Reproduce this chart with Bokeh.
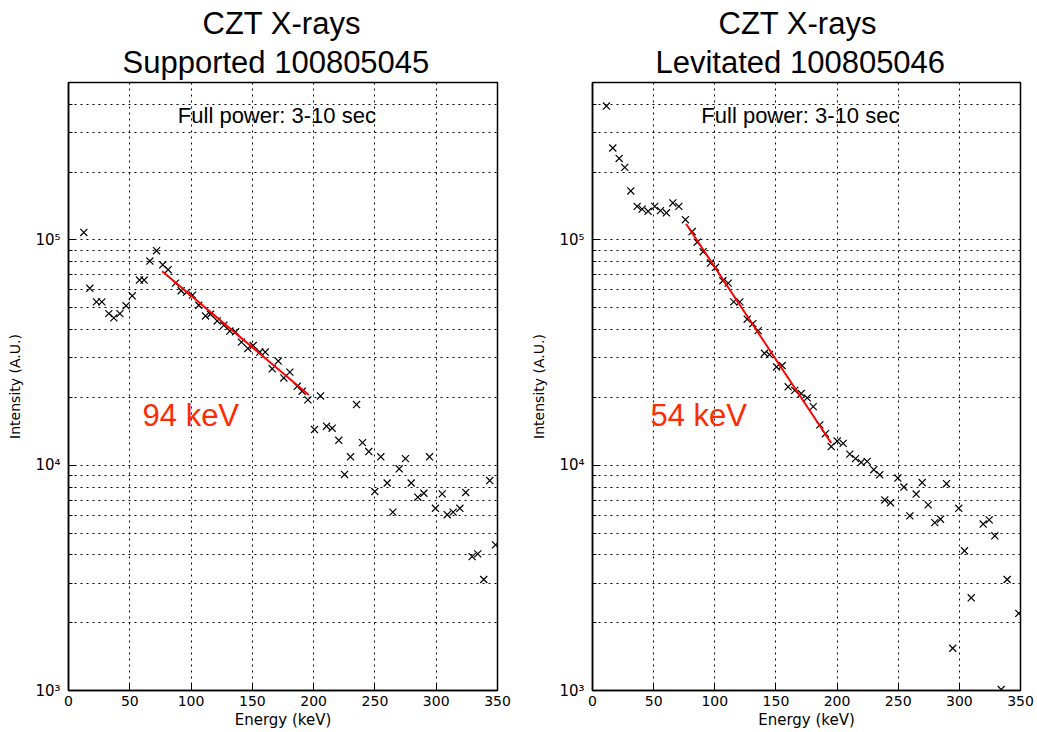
from bokeh.plotting import figure
from bokeh.layouts import row
from bokeh.models import Range1d, FixedTicker, Title, Label
from bokeh.embed import file_html
from bokeh.resources import INLINE

# ---------------- data ----------------
energy_supported = [12.5, 17.4, 22.8, 27.2, 32.9, 37.0, 41.9, 47.0, 52.0, 57.9, 61.7, 66.4,
                    71.8, 76.9, 81.3, 87.3, 91.9, 96.3, 101.2, 106.3, 111.8, 115.8, 121.3,
                    126.7, 131.6, 136.3, 141.1, 146.3, 150.7, 156.1, 160.5, 166.2, 171.1,
                    175.7, 180.6, 186.6, 190.6, 195.3, 200.7, 205.6, 210.5, 215.1, 220.5,
                    225.2, 230.1, 235.0, 239.9, 245.0, 249.9, 254.8, 260.0, 264.6, 269.8,
                    274.9, 279.6, 285.0, 289.9, 294.5, 299.4, 304.9, 309.0, 313.8, 319.3,
                    324.1, 329.3, 333.9, 338.8, 343.7, 348.4]
intensity_supported = [1.08e5, 6.1e4, 5.31e4, 5.31e4, 4.71e4, 4.51e4, 4.71e4, 5.10e4, 5.65e4,
                       6.64e4, 6.64e4, 8.06e4, 8.96e4, 7.76e4, 7.38e4, 6.43e4, 5.95e4, 5.85e4,
                       5.69e4, 5.13e4, 4.60e4, 4.68e4, 4.37e4, 4.18e4, 3.94e4, 3.91e4, 3.52e4,
                       3.30e4, 3.40e4, 3.18e4, 3.18e4, 2.68e4, 2.90e4, 2.44e4, 2.59e4, 2.24e4,
                       2.13e4, 1.95e4, 1.44e4, 2.03e4, 1.49e4, 1.46e4, 1.29e4, 9.10e3, 1.09e4,
                       1.86e4, 1.26e4, 1.15e4, 7.64e3, 1.09e4, 8.34e3, 6.19e3, 9.64e3, 1.07e4,
                       8.34e3, 7.21e3, 7.51e3, 1.09e4, 6.44e3, 7.46e3, 6.03e3, 6.19e3, 6.44e3,
                       7.57e3, 3.93e3, 4.04e3, 3.11e3, 8.55e3, 4.43e3]

energy_levitated = [11.4, 16.6, 21.8, 26.4, 31.3, 36.5, 40.6, 45.5, 50.9, 55.6, 60.5, 65.7,
                    70.6, 76.0, 81.5, 85.6, 90.5, 96.5, 100.6, 106.6, 111.0, 115.5, 120.5,
                    126.5, 131.1, 135.5, 140.6, 144.7, 150.5, 155.1, 160.0, 165.4, 170.7,
                    175.6, 180.5, 185.9, 190.5, 195.2, 200.1, 205.0, 210.4, 215.1, 219.7,
                    224.6, 230.0, 234.9, 239.0, 243.7, 249.7, 254.6, 259.5, 264.7, 269.6,
                    274.5, 279.9, 284.6, 289.5, 294.6, 299.5, 304.2, 309.7, 319.5, 324.4,
                    329.0, 334.2, 339.1, 348.6]
intensity_levitated = [3.93e5, 2.56e5, 2.30e5, 2.10e5, 1.65e5, 1.41e5, 1.37e5, 1.34e5, 1.41e5,
                       1.35e5, 1.32e5, 1.46e5, 1.41e5, 1.23e5, 1.09e5, 9.77e4, 8.87e4, 7.90e4,
                       7.56e4, 6.59e4, 6.43e4, 5.31e4, 5.31e4, 4.45e4, 4.25e4, 3.96e4, 3.14e4,
                       3.10e4, 2.73e4, 2.77e4, 2.23e4, 2.15e4, 2.08e4, 1.99e4, 1.82e4, 1.51e4,
                       1.38e4, 1.21e4, 1.28e4, 1.25e4, 1.12e4, 1.07e4, 1.03e4, 1.04e4, 9.55e3,
                       9.07e3, 7.01e3, 6.82e3, 8.77e3, 8.0e3, 5.96e3, 7.45e3, 8.38e3, 6.67e3,
                       5.56e3, 5.76e3, 8.28e3, 1.54e3, 6.44e3, 4.17e3, 2.58e3, 5.48e3, 5.72e3,
                       4.86e3, 1.01e3, 3.11e3, 2.20e3]

fit_energy_supported = [76.4, 196.1]
fit_intensity_supported = [7.26e4, 2.05e4]
fit_energy_levitated = [76.5, 195.2]
fit_intensity_levitated = [1.18e5, 1.256e4]

fit_labels = ["94 keV", "54 keV"]
fit_label_pos = [(60.4, 1.66e4), (47.4, 1.66e4)]
titles = [("CZT X-rays", "Supported 100805045"), ("CZT X-rays", "Levitated 100805046")]
note_text = "Full power: 3-10 sec"
note_pos = (170, 3.56e5)

x_ticks = [0, 50, 100, 150, 200, 250, 300, 350]
y_major_ticks = [1e3, 1e4, 1e5]
y_tick_labels = ["10\u00b3", "10\u2074", "10\u2075"]
y_minor_ticks = [2e3, 3e3, 4e3, 5e3, 6e3, 7e3, 8e3, 9e3,
                 2e4, 3e4, 4e4, 5e4, 6e4, 7e4, 8e4, 9e4,
                 2e5, 3e5, 4e5, 5e5]

TITLE_FONT = "Liberation Sans"
AX_FONT = "DejaVu Sans"


def make_panel(idx, E, I, fitE, fitI, width, bl, br, title_offsets):
    p = figure(width=width, height=732, x_range=Range1d(0, 350), y_range=Range1d(1e3, 5e5),
               y_axis_type="log", output_backend="svg", toolbar_location=None, title=None,
               min_border_left=bl, min_border_right=br, min_border_top=82, min_border_bottom=42)
    p.background_fill_color = "white"
    p.border_fill_color = "white"
    p.outline_line_color = "black"
    p.outline_line_width = 1.5

    t1, t2 = titles[idx]
    p.add_layout(Title(text=t2, align="left", text_font=TITLE_FONT, text_font_size="31px",
                       text_font_style="normal", text_color="black", standoff=5,
                       offset=title_offsets[1]), "above")
    p.add_layout(Title(text=t1, align="left", text_font=TITLE_FONT, text_font_size="31px",
                       text_font_style="normal", text_color="black", standoff=0,
                       offset=title_offsets[0]), "above")

    # axes
    p.xaxis.ticker = FixedTicker(ticks=x_ticks)
    p.yaxis.ticker = FixedTicker(ticks=y_major_ticks, minor_ticks=y_minor_ticks)
    p.yaxis.major_label_overrides = {v: s for v, s in zip(y_major_ticks, y_tick_labels)}
    for ax in (p.xaxis[0], p.yaxis[0]):
        ax.axis_line_color = "black"
        ax.axis_line_width = 1.5
        ax.major_tick_in = 7
        ax.major_tick_out = 0
        ax.minor_tick_in = 4
        ax.minor_tick_out = 0
        ax.major_tick_line_color = "black"
        ax.minor_tick_line_color = "black"
        ax.major_label_text_font = AX_FONT
        ax.major_label_text_color = "black"
        ax.axis_label_text_font = AX_FONT
        ax.axis_label_text_font_style = "normal"
        ax.axis_label_text_color = "black"
    p.xaxis.major_label_text_font_size = "14px"
    p.yaxis.major_label_text_font_size = "15px"
    p.xaxis.axis_label = "Energy (keV)"
    p.xaxis.axis_label_text_font_size = "15px"
    p.xaxis.major_label_standoff = 5
    p.xaxis.axis_label_standoff = 2
    p.yaxis.axis_label = "Intensity (A.U.)"
    p.yaxis.axis_label_text_font_size = "14px"
    p.yaxis.major_label_standoff = 8
    p.yaxis.axis_label_standoff = 9

    # grids
    p.xgrid.grid_line_color = "black"
    p.xgrid.grid_line_dash = "2 4"
    p.xgrid.grid_line_width = 1
    p.ygrid.grid_line_color = "black"
    p.ygrid.grid_line_dash = "2 4"
    p.ygrid.minor_grid_line_color = "black"
    p.ygrid.minor_grid_line_dash = "2 4"

    p.scatter(E, I, marker="x", size=10, line_color="black", line_width=1.2)
    p.line(fitE, fitI, line_color="red", line_width=2)

    lx, ly = fit_label_pos[idx]
    p.add_layout(Label(x=lx, y=ly, text=fit_labels[idx], text_color="#ff2a00",
                       text_font=TITLE_FONT, text_font_size="31px",
                       text_align="left", text_baseline="middle"))
    p.add_layout(Label(x=note_pos[0], y=note_pos[1], text=note_text, text_color="black",
                       text_font=TITLE_FONT, text_font_size="22px",
                       text_align="center", text_baseline="middle"))
    return p


p1 = make_panel(0, energy_supported, intensity_supported,
                fit_energy_supported, fit_intensity_supported, 520, 68, 23, (134, 54))
p2 = make_panel(1, energy_levitated, intensity_levitated,
                fit_energy_levitated, fit_intensity_levitated, 517, 72, 17, (126, 63))

layout = row(p1, p2)
open("out.html", "w").write(file_html(layout, INLINE))
